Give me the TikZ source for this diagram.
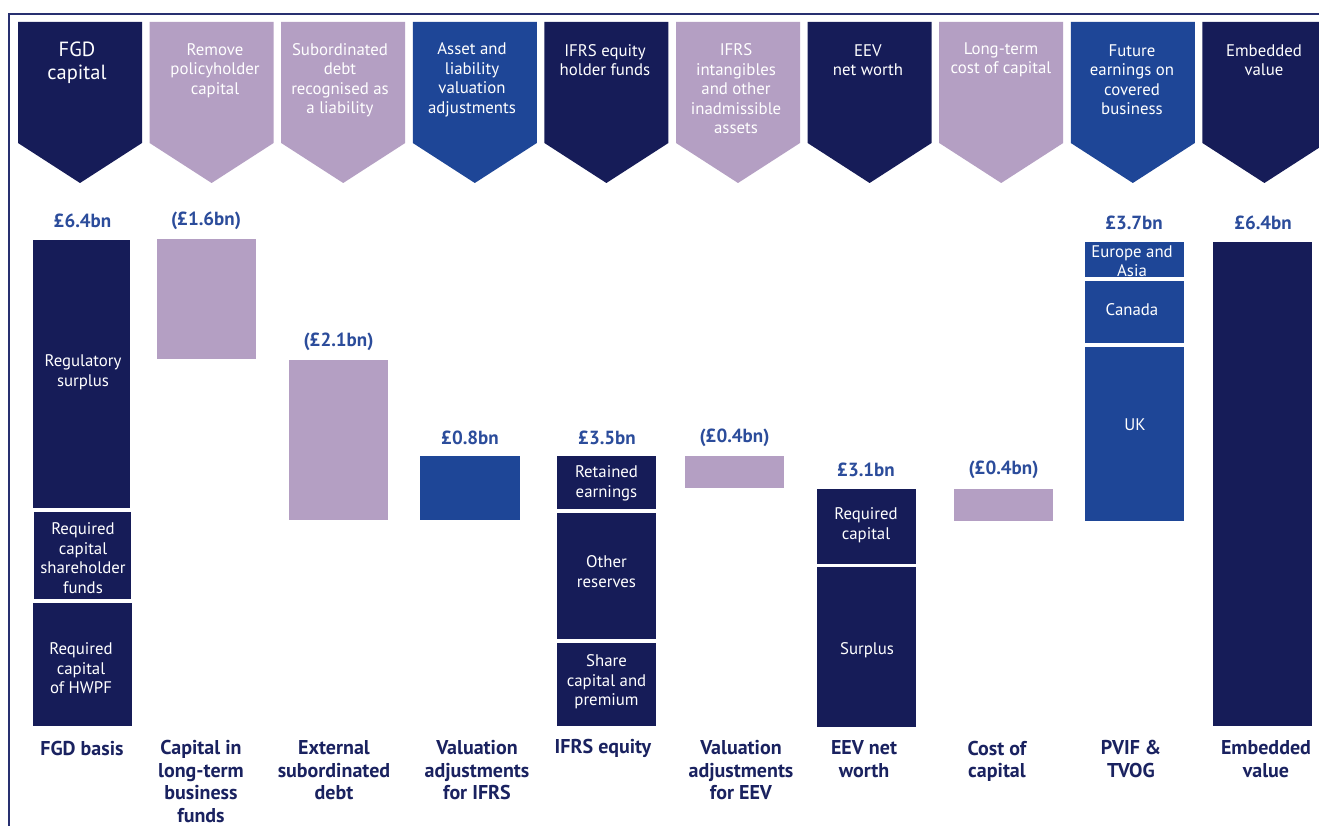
\documentclass[tikz,border=0pt]{standalone}
\usepackage{fontspec}
\setmainfont{PT Sans}
\definecolor{navy}{RGB}{22,28,88}
\definecolor{lav}{RGB}{180,159,195}
\definecolor{mblue}{RGB}{30,70,151}
\definecolor{valblue}{RGB}{43,76,155}
\definecolor{lblnavy}{RGB}{26,34,96}
\definecolor{framec}{RGB}{40,48,112}
\tikzset{
  chevtext/.style={text=white,align=center,inner sep=0pt,font=\fontsize{16.8}{19.5}\selectfont},
  bartext/.style={text=white,align=center,inner sep=0pt,font=\fontsize{16.8}{19.5}\selectfont},
  valtext/.style={text=valblue,inner sep=0pt,font=\fontsize{19}{20}\selectfont\bfseries},
  lbltext/.style={text=lblnavy,align=center,inner sep=0pt,font=\fontsize{20}{22.5}\selectfont\bfseries},
}
\newcommand\chev[3]{%
  \fill[#2] ({18+131.6*#1},22) -- ({142+131.6*#1},22) -- ({142+131.6*#1},143) -- ({80+131.6*#1},183) -- ({18+131.6*#1},143) -- cycle;}
\newcommand\blk[5]{\fill[#5] (#1,#2) rectangle (#3,#4);}
\begin{document}
\begin{tikzpicture}[x=1pt,y=-1pt]
\useasboundingbox (0,0) rectangle (1319,826);
\fill[white] (0,0) rectangle (1319,826);
% frame
\draw[framec,line width=2pt] (9,826) -- (9,14) -- (1330,14);
% chevrons
\chev{0}{navy}{}\chev{1}{lav}{}\chev{2}{lav}{}\chev{3}{mblue}{}\chev{4}{navy}{}
\chev{5}{lav}{}\chev{6}{navy}{}\chev{7}{lav}{}\chev{8}{mblue}{}\chev{9}{navy}{}
\node[chevtext,font=\fontsize{20.5}{23}\selectfont] (c0) at (77,63) {FGD\\capital};
\node[chevtext] (c1) at (215,70.5) {Remove\\policyholder\\capital};
\node[chevtext] (c2) at (340,80) {Subordinated\\debt\\recognised as\\a liability};
\node[chevtext] (c3) at (472,80) {Asset and\\liability\\valuation\\adjustments};
\node[chevtext] (c4) at (605,60) {IFRS equity\\holder funds};
\node[chevtext] (c5) at (736,89) {IFRS\\intangibles\\and other\\inadmissible\\assets};
\node[chevtext] (c6) at (868,60) {EEV\\net worth};
\node[chevtext] (c7) at (1001,60) {Long-term\\cost of capital};
\node[chevtext] (c8) at (1132,79.5) {Future\\earnings on\\covered\\business};
\node[chevtext] (c9) at (1264,60) {Embedded\\value};
% bars col1
\blk{33}{240}{130}{508}{navy}
\blk{34}{512}{131}{599}{navy}
\blk{33}{603}{132}{726}{navy}
\node[bartext] (b1a) at (83,372) {Regulatory\\surplus};
\node[bartext] (b1b) at (83,558) {Required\\capital\\shareholder\\funds};
\node[bartext] (b1c) at (81,668.5) {Required\\capital\\of HWPF};
% col2
\blk{157}{239}{256}{359}{lav}
% col3
\blk{289}{360}{388}{520}{lav}
% col4
\blk{420}{456}{520}{520}{mblue}
% col5
\blk{557}{456}{656}{509}{navy}
\blk{557}{513}{656}{639}{navy}
\blk{557}{643}{656}{726}{navy}
\node[bartext] (b5a) at (606.5,483.5) {Retained\\earnings};
\node[bartext] (b5b) at (606.5,571.5) {Other\\reserves};
\node[bartext] (b5c) at (606.5,682) {Share\\capital and\\premium};
% col6
\blk{685}{456}{784}{488}{lav}
% col7
\blk{817}{489}{916}{564}{navy}
\blk{817}{567}{916}{727}{navy}
\node[bartext] (b7a) at (866,525) {Required\\capital};
\node[bartext] (b7b) at (867,650) {Surplus};
% col8
\blk{954}{489}{1053}{521}{lav}
% col9
\blk{1085}{242}{1184}{277}{mblue}
\blk{1085}{281}{1184}{343}{mblue}
\blk{1085}{347}{1184}{521}{mblue}
\node[bartext] (b9a) at (1132,261) {Europe and\\Asia};
\node[bartext] (b9b) at (1132,310) {Canada};
\node[bartext] (b9c) at (1135,425) {UK};
% col10
\blk{1213}{242}{1312}{726}{navy}
% values
\node[valtext] (v1) at (82.5,221) {£6.4bn};
\node[valtext] (v2) at (206,221) {(£1.6bn)};
\node[valtext] (v3) at (338.5,342) {(£2.1bn)};
\node[valtext] (v4) at (470,438) {£0.8bn};
\node[valtext] (v5) at (607,438) {£3.5bn};
\node[valtext] (v6) at (734.5,438) {(£0.4bn)};
\node[valtext] (v7) at (866,470) {£3.1bn};
\node[valtext] (v8) at (1003.5,470) {(£0.4bn)};
\node[valtext] (v9) at (1134,223) {£3.7bn};
\node[valtext] (v10) at (1263,223) {£6.4bn};
% bottom labels
\node[lbltext] (l1) at (82,748) {FGD basis};
\node[lbltext] (l2) at (201,781.5) {Capital in\\long-term\\business\\funds};
\node[lbltext] (l3) at (334,770.5) {External\\subordinated\\debt};
\node[lbltext] (l4) at (477,770.5) {Valuation\\adjustments\\for IFRS};
\node[lbltext] (l5) at (603,748) {IFRS equity};
\node[lbltext] (l6) at (741,770.5) {Valuation\\adjustments\\for EEV};
\node[lbltext] (l7) at (864,759) {EEV net\\worth};
\node[lbltext] (l8) at (997,761.5) {Cost of\\capital};
\node[lbltext] (l9) at (1131,759) {PVIF \&\\TVOG};
\node[lbltext] (l10) at (1266,759) {Embedded\\value};
\end{tikzpicture}
\end{document}
